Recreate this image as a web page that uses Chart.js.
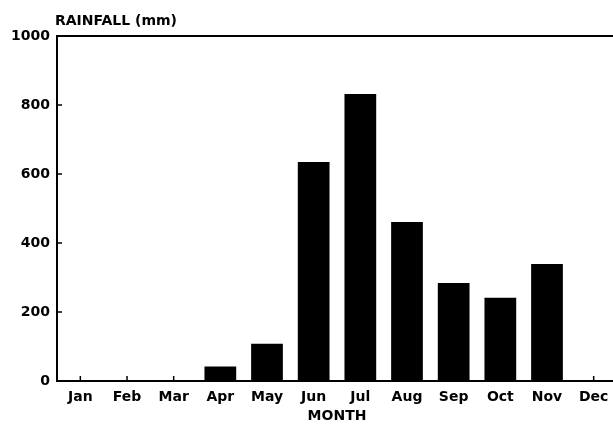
<!DOCTYPE html>
<html lang="en">
<head>
    <meta charset="UTF-8">
    <title>Rainfall by Month</title>
    <style>
        html, body { margin: 0; padding: 0; overflow: hidden; background: #fff; }
        canvas { display: block; }
    </style>
</head>
<body>
    <canvas id="rainChart" width="617" height="425"></canvas>

    <script src="https://cdn.jsdelivr.net/npm/chart.js"></script>
    <script>
        // data
        const months = ['Jan', 'Feb', 'Mar', 'Apr', 'May', 'Jun', 'Jul', 'Aug', 'Sep', 'Oct', 'Nov', 'Dec'];
        const rainfall = [0, 0, 0, 42, 108, 635, 832, 461, 284, 241, 339, 0];
        const yTicks = [0, 200, 400, 600, 800, 1000];

        const FONT = 'DejaVu Sans';

        // inward tick marks, top border and the y title
        const frame = {
            id: 'frame',
            beforeDatasetsDraw(chart) {
                const { ctx, chartArea, scales } = chart;
                ctx.save();
                ctx.strokeStyle = '#000';
                ctx.lineWidth = 1.5;
                ctx.beginPath();
                months.forEach((m, i) => {
                    const x = scales.x.getPixelForValue(i);
                    ctx.moveTo(x, chartArea.bottom);
                    ctx.lineTo(x, chartArea.bottom - 5);
                });
                yTicks.forEach(v => {
                    const y = scales.y.getPixelForValue(v);
                    ctx.moveTo(chartArea.left, y);
                    ctx.lineTo(chartArea.left + 5, y);
                });
                ctx.stroke();
                ctx.restore();
            },
            afterDraw(chart) {
                const { ctx, chartArea } = chart;
                ctx.save();
                ctx.strokeStyle = '#000';
                ctx.lineWidth = 2;
                ctx.beginPath();
                ctx.moveTo(chartArea.left - 1, chartArea.top);
                ctx.lineTo(chartArea.right, chartArea.top);
                ctx.stroke();

                ctx.fillStyle = '#000';
                ctx.font = 'bold 14px ' + FONT;
                ctx.textAlign = 'left';
                ctx.textBaseline = 'middle';
                ctx.fillText('RAINFALL (mm)', chartArea.left - 2, chartArea.top - 15);
                ctx.restore();
            }
        };

        const ctx = document.getElementById('rainChart').getContext('2d');
        new Chart(ctx, {
            type: 'bar',
            data: {
                labels: months,
                datasets: [{
                    label: 'Rainfall',
                    data: rainfall,
                    backgroundColor: '#000',
                    borderWidth: 0,
                    categoryPercentage: 1,
                    barPercentage: 0.68
                }]
            },
            options: {
                responsive: false,
                animation: false,
                layout: { padding: { top: 36, right: 0, bottom: 0, left: 0 } },
                plugins: {
                    legend: { display: false },
                    tooltip: { enabled: false }
                },
                scales: {
                    x: {
                        grid: { display: false, drawTicks: false },
                        border: { display: true, color: '#000', width: 2 },
                        ticks: {
                            color: '#000',
                            padding: 8,
                            maxRotation: 0,
                            autoSkip: false,
                            font: { family: FONT, size: 14, weight: 'bold' }
                        },
                        title: {
                            display: true,
                            text: 'MONTH',
                            color: '#000',
                            padding: { top: 3, bottom: 0 },
                            font: { family: FONT, size: 14, weight: 'bold' }
                        },
                        afterFit(scale) { scale.height = 44; }
                    },
                    y: {
                        min: 0,
                        max: 1000,
                        afterBuildTicks(scale) { scale.ticks = yTicks.map(v => ({ value: v })); },
                        grid: { display: false, drawTicks: false },
                        border: { display: true, color: '#000', width: 2 },
                        ticks: {
                            color: '#000',
                            padding: 7,
                            callback: v => String(v),
                            font: { family: FONT, size: 14, weight: 'bold' }
                        },
                        afterFit(scale) { scale.width = 57; }
                    }
                }
            },
            plugins: [frame]
        });
    </script>
</body>
</html>
